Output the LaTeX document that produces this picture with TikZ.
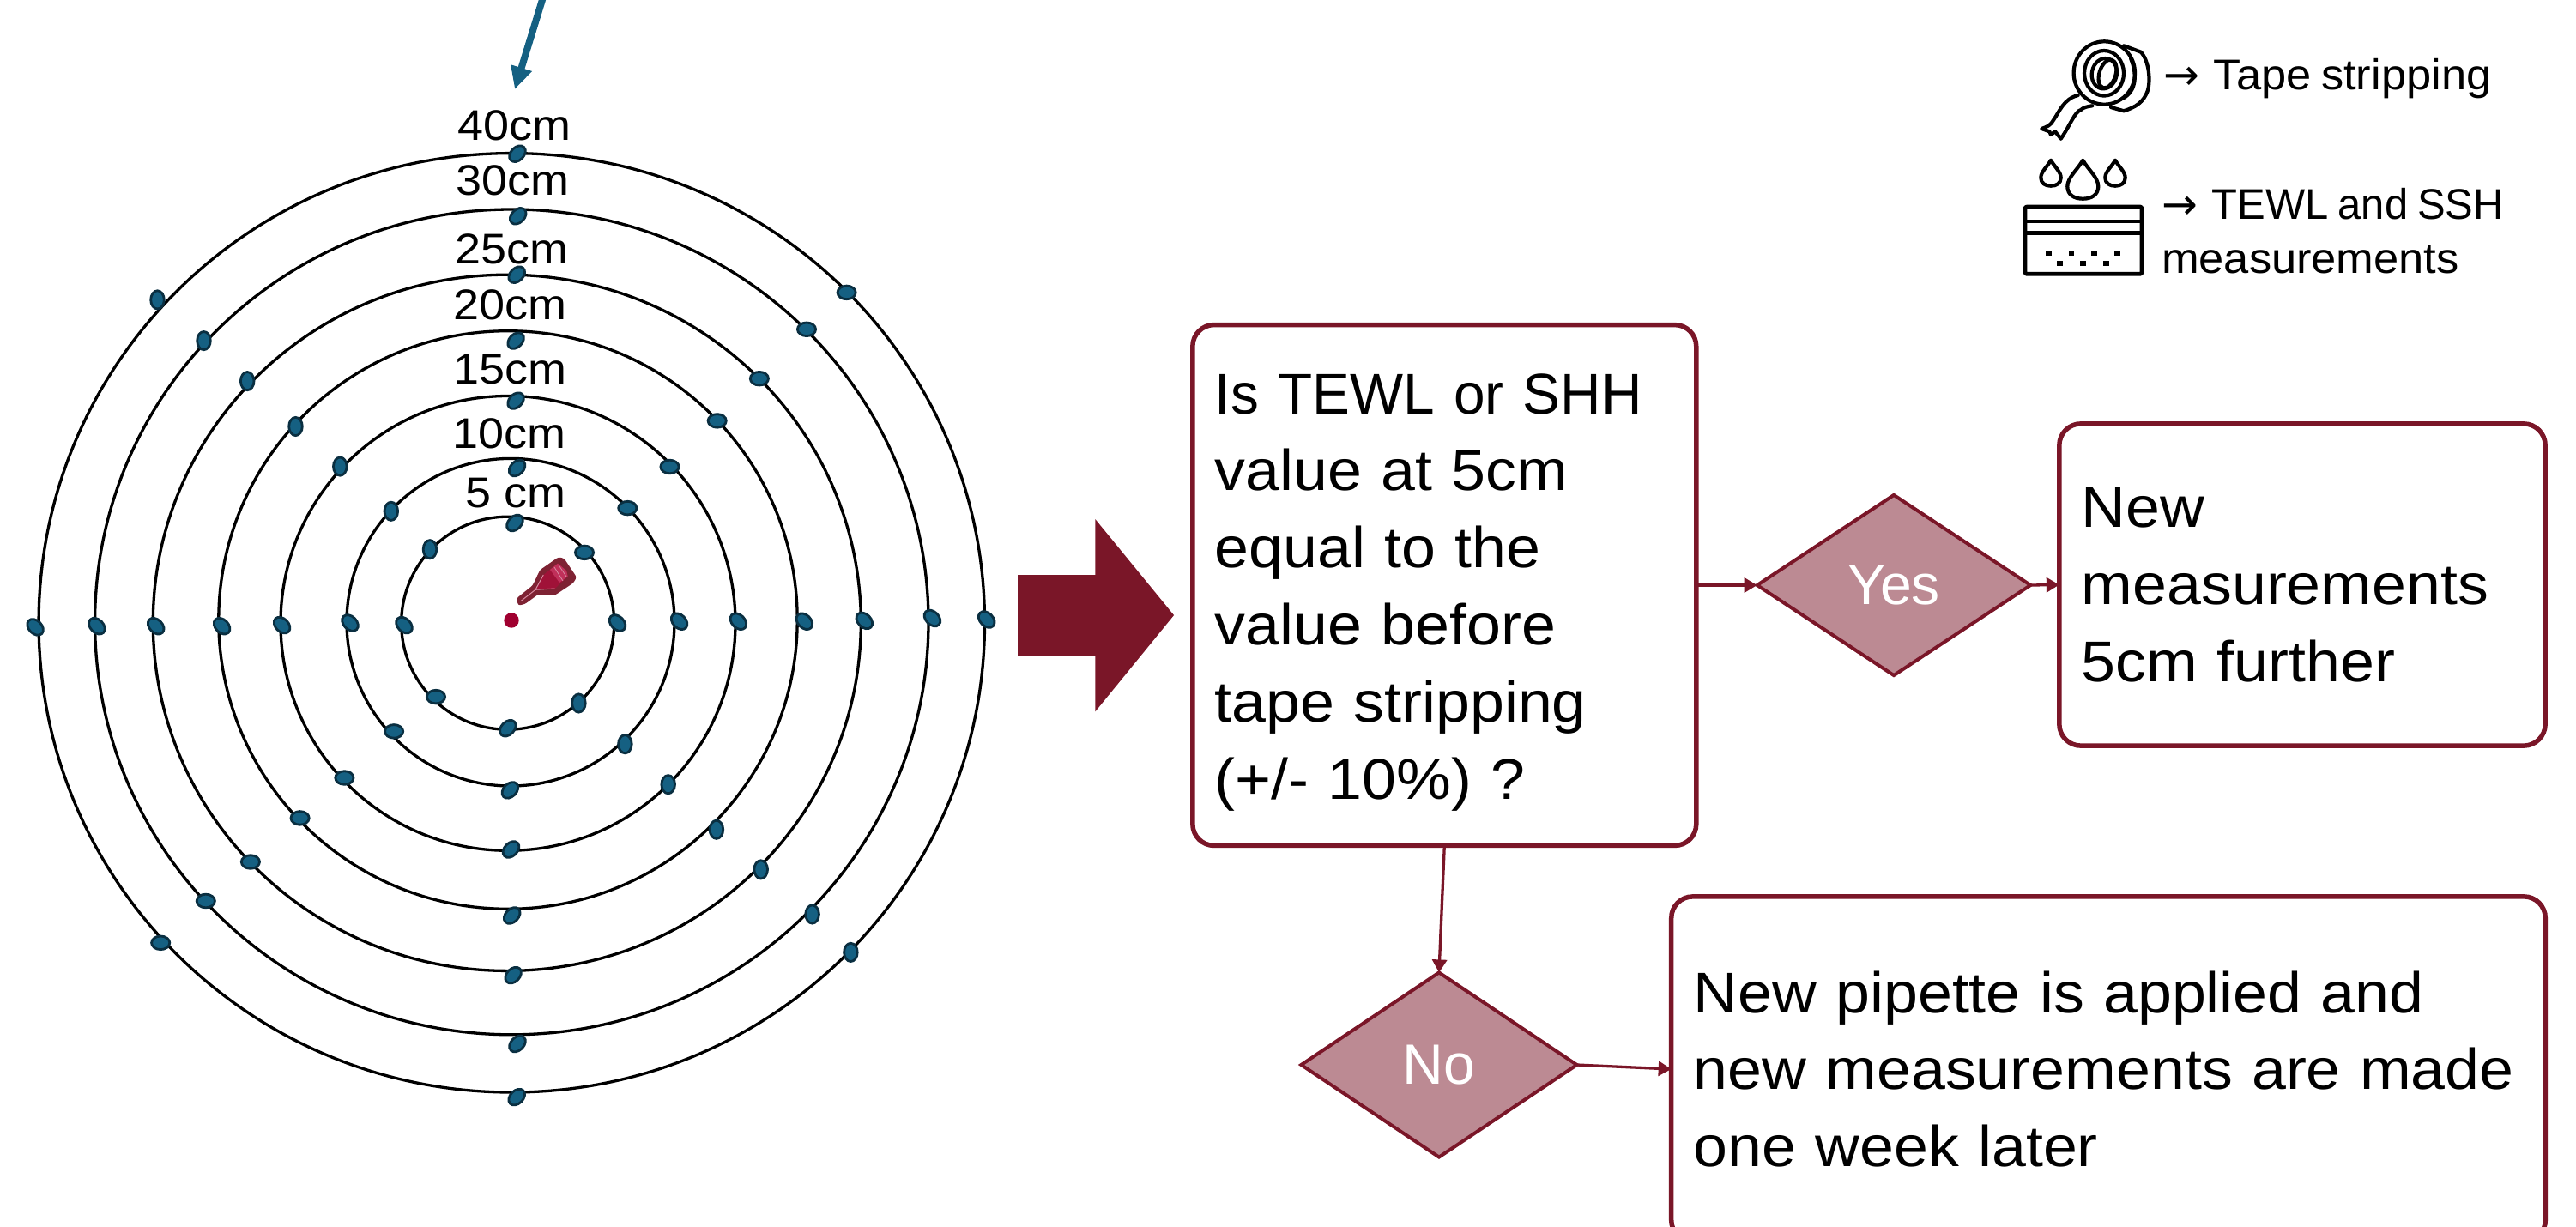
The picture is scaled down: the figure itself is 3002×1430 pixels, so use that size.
\documentclass[tikz,border=0pt]{standalone}
\usepackage{fontspec}
\setmainfont{Liberation Sans}
\newfontfamily\boxfont[FakeStretch=1.07,WordSpace=0.85]{Liberation Sans}
\newfontfamily\boxtight[FakeStretch=0.98,WordSpace=0.85]{Liberation Sans}
\newfontfamily\tagfont[FakeStretch=1.08]{Liberation Sans}
\newfontfamily\legfont[FakeStretch=1.05,WordSpace=0.8]{Liberation Sans}
\newfontfamily\legtight[FakeStretch=0.98,WordSpace=0.8]{Liberation Sans}
\newfontfamily\arrfont{DejaVu Sans}
\definecolor{wine}{HTML}{7A1628}
\definecolor{winefill}{HTML}{BC8A93}
\definecolor{dotblue}{HTML}{156082}
\definecolor{dotedge}{HTML}{0A2F41}
\definecolor{pipdark}{HTML}{7E2233}
\definecolor{pipmid}{HTML}{A01238}
\definecolor{piplight}{HTML}{C0305A}
\definecolor{pipline}{HTML}{D88CA2}
\definecolor{reddot}{HTML}{A00030}
\usetikzlibrary{arrows.meta,shapes.geometric}
\tikzset{
  ringline/.style={draw=black,line width=0.33mm},
  dotmark/.style={draw=dotedge,fill=dotblue,line width=0.28mm},
  cmlabel/.style={font=\tagfont\fontsize{14.2pt}{17pt}\selectfont,anchor=base,inner sep=0pt,outer sep=0pt,text=black},
  flowbox/.style={draw=wine,line width=0.55mm,rounded corners=2.5mm,fill=white,align=left,anchor=center,
    inner xsep=2.6mm,inner ysep=0pt,outer sep=0pt,
    font=\boxfont\fontsize{19.06pt}{25.55pt}\selectfont},
  choice/.style={diamond,draw=wine,fill=winefill,line width=0.4mm,inner sep=0pt,outer sep=0pt,text=white,
    font=\fontsize{18.8pt}{22pt}\selectfont},
  conn/.style={draw=wine,line width=0.33mm,-{Triangle[length=1.5mm,width=1.7mm]}},
  legendtext/.style={font=\legfont\fontsize{14.2pt}{17.9pt}\selectfont,inner sep=0pt,outer sep=0pt,align=left},
  iconline/.style={draw=black,line width=0.42mm,line join=round,line cap=round},
  iconbold/.style={draw=black,line width=0.47mm,line join=round},
}
\newcommand{\dropicon}[4]{%
  \draw[iconline,shift={(#1,#2)},xscale=#3,yscale=#4]
    (0,0) .. controls (-0.35,0.25) and (-1,0.45) .. (-1,0.68)
    .. controls (-1,0.9) and (-0.55,1) .. (0,1)
    .. controls (0.55,1) and (1,0.9) .. (1,0.68)
    .. controls (1,0.45) and (0.35,0.25) .. (0,0) -- cycle;}
\newcommand{\legarrow}{{\arrfont →}\hspace{1.7mm}}
\begin{document}
\begin{tikzpicture}[x=0.01cm,y=-0.01cm]
\useasboundingbox (0,0) rectangle (3002,1430);
\clip (0,0) rectangle (3002,1430);
% rings
\foreach \cx/\cy/\rx/\ry in {596.3/725.8/551.2/547.2,596.3/724.9/485.7/480.9,590.8/725.8/412.5/405.6,592/722.5/337.2/336.8,592/726.4/265/264.9,595/725.2/191/190.8,591.7/726.2/124/124}
  \draw[ringline] (\cx,\cy) ellipse [x radius=\rx,y radius=\ry];
% dots: upper-left, lower-right (upright)
\foreach \x/\y in {183.5/349.4,237.5/397.1,288.2/444.1,344.5/497,396.3/543.6,455.8/595.8,501/640.2,991.4/1109.9,946.6/1065.5,886.7/1013.4,834.9/966.8,778.7/914.2,728.4/867.2,674.4/819.5}
  \path[dotmark,shift={(\x,\y)},rotate=90] (0,0) ellipse [x radius=10.6,y radius=7.8];
% upper-right, lower-left (flat)
\foreach \x/\y in {986.6/340.9,940/383.8,884.9/441.2,835.7/490.4,780.5/544,731.3/592.1,681/643.9,187.2/1098.8,239.8/1050,291.9/1004.5,349.6/953.4,401.4/906.5,459.1/852.4,508/812.1}
  \path[dotmark,shift={(\x,\y)}] (0,0) ellipse [x radius=10.6,y radius=7.8];
% left and right axis (leaning back)
\foreach \x/\y in {41.1/730.9,112.9/729.7,181.7/729.7,258.6/729.7,328.6/728.6,408/726,471/728.6,719.5/726,791.6/724.2,860.4/724.2,937.4/724.2,1007.3/723.4,1086.5/720.5,1149.7/722}
  \path[dotmark,shift={(\x,\y)},rotate=-45] (0,0) ellipse [x radius=10.8,y radius=7.6];
% top and bottom axis (leaning forward)
\foreach \x/\y in {603/179.2,603.7/251.8,602.2/320.2,601.1/397.1,601.1/467.1,602.6/545.5,600/609.5,602.2/1278.6,603/1216.5,598.1/1136.6,596.7/1067,595.5/990,594.4/920.9,591.8/848.7}
  \path[dotmark,shift={(\x,\y)},rotate=45] (0,0) ellipse [x radius=10.8,y radius=7.6];
% centre: dot and pipette
\fill[reddot] (596,723) circle [x radius=8.7,y radius=8.7];
\fill[pipdark,rounded corners=0.25mm] (602,697.3) -- (620.7,682.3) -- (629.3,664.3) -- (650.7,649.3) -- (657.3,650.7) -- (672,672.7) -- (668.3,679.3) -- (646.7,693.7) -- (627.3,692.7) -- (611.7,704) -- (604,705.7) -- cycle;
\fill[pipmid] (633.3,670) -- (624,687.3) -- (646.7,686) -- (661.7,671.7) -- (660,665) -- (650,656.7) -- cycle;
\fill[piplight] (641,664) -- (650,656.7) -- (660,665) -- (661.7,671.7) -- (652,679) -- cycle;
\draw[pipline,line width=0.1mm] (633.3,670) -- (624,687.3) -- (646.7,686);
\draw[pipline,line width=0.1mm] (607,700.5) -- (624,687.3);
\draw[pipline,line width=0.08mm] (646,661) -- (656,677) (651,658.5) -- (660,672);
% labels
\node[cmlabel] (l40) at (599,163) {40cm};
\node[cmlabel] (l30) at (597,227) {30cm};
\node[cmlabel] (l25) at (596,307) {25cm};
\node[cmlabel] (l20) at (594,372.7) {20cm};
\node[cmlabel] (l15) at (594,447.8) {15cm};
\node[cmlabel] (l10) at (593,522.6) {10cm};
\node[cmlabel] (l5) at (601,591) {5 cm};
% blue arrow
\coordinate (bluestart) at (635,-10);
\coordinate (bluetip) at (600,104);
\draw[draw=dotblue,line width=0.8mm,-{Triangle[length=2.6mm,width=2.4mm]}] (bluestart) -- (bluetip);
% block arrow
\fill[wine] (1186,670.2) -- (1276.3,670.2) -- (1276.3,605) -- (1368,717) -- (1276.3,829.4) -- (1276.3,764) -- (1186,764) -- cycle;
% flow
\node[flowbox,text width=53.46mm,minimum height=60.65mm] (box1) at (1683.3,682) {\rule{0pt}{18pt}{\boxtight Is TEWL or SHH}\\value at 5cm\\equal to the\\value before\\tape stripping\\(+/- 10\%) ?};
\node[flowbox,text width=51.4mm,minimum height=37.5mm] (box2) at (2683,681.5) {New\\measurements\\5cm further};
\node[flowbox,text width=96.6mm,minimum height=40.2mm] (box3) at (2457,1246) {New pipette is applied and\\new measurements are made\\one week later};
\node[choice,aspect=1.516,minimum width=31.84mm,minimum height=21mm] (yes) at (2207,682) {Yes};
\node[choice,aspect=1.493,minimum width=32.1mm,minimum height=21.5mm] (no) at (1677,1241) {No};
\draw[conn] (box1.east) -- (yes.west);
\draw[conn] (yes.east) -- (box2.west);
\draw[conn] (box1.south) -- (no.north);
\draw[conn] (no.east) -- (box3.west);
% legend text
\node[legendtext,anchor=base west] (leg1) at (2521,104) {\legarrow Tape stripping};
\node[legendtext,anchor=north west] (leg2) at (2519,219) {\legarrow{\legtight TEWL and SSH}\\measurements};
% tape icon
\begin{scope}
\draw[iconline] (2452.3,85) ellipse [x radius=35.7,y radius=36.7];
\draw[iconline] (2452,85.3) ellipse [x radius=23,y radius=26.3];
\draw[iconline,shift={(2452.3,85.7)},rotate=-12] (0,0) ellipse [x radius=14.5,y radius=17.8];
\draw[iconline,shift={(2456,86)},rotate=-18] (0,0) ellipse [x radius=9.5,y radius=17];
\draw[iconline] (2475,53.3) -- (2495,60.7) .. controls (2505,72) and (2506,95) .. (2503,105) .. controls (2498,120) and (2488,125) .. (2475,129.3) -- (2460,125);
\draw[iconline] (2483,68) .. controls (2492,90) and (2488,108) .. (2473,115);
\draw[iconline] (2421.7,111) .. controls (2405,115) and (2400,130) .. (2393,140) .. controls (2390,146) and (2385,148) .. (2379.3,150)
  -- (2388.3,153.3) -- (2390,157) -- (2395,153.3) -- (2401.7,161.7)
  .. controls (2413,145) and (2418,130) .. (2425,128) .. controls (2428,125) and (2433,124) .. (2438.3,123.3);
\end{scope}
% water icon
\dropicon{2390}{186.7}{11.7}{30}
\dropicon{2427.3}{186.7}{18}{45}
\dropicon{2465}{186.7}{11.7}{30}
\draw[iconbold,rounded corners=0.2mm] (2360,241) rectangle (2496,319.3);
\draw[iconbold] (2360,258) -- (2496,258) (2360,271.7) -- (2496,271.7);
\foreach \x/\y in {2387.3/294.7,2414/294.7,2440.7/294.7,2467.7/294.7,2400.7/306.7,2427.3/306.7,2454.3/306.7}
  \fill[black] (\x-3.4,\y-2.8) rectangle (\x+3.4,\y+2.8);
\end{tikzpicture}
\end{document}
